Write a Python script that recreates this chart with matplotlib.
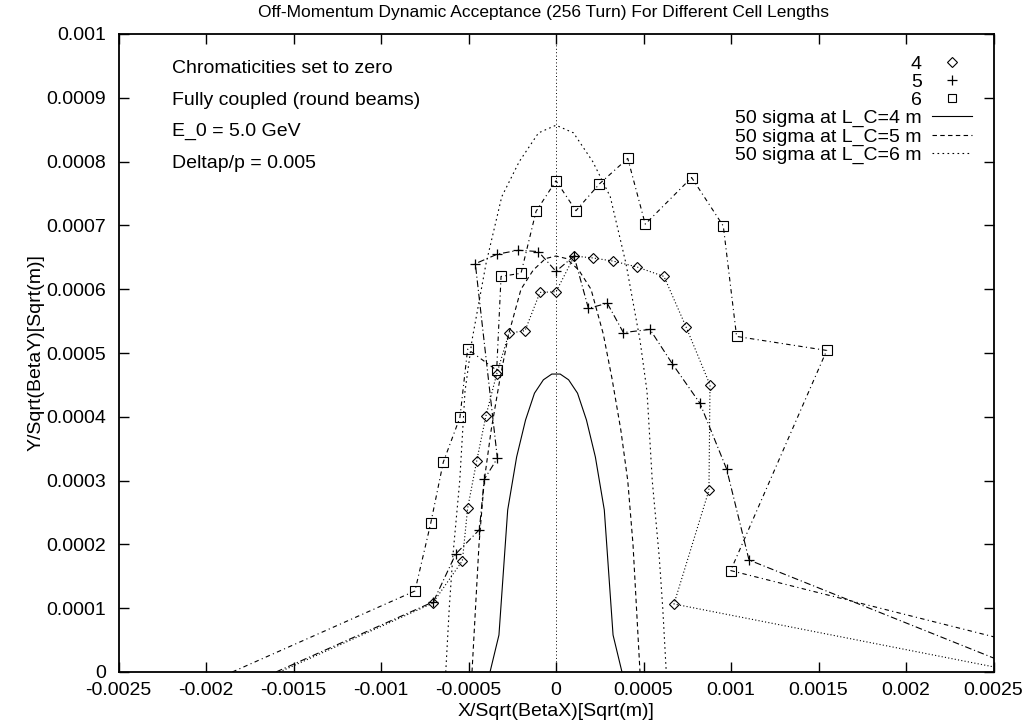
import numpy as np
import matplotlib
matplotlib.use('Agg')
import matplotlib.pyplot as plt
from matplotlib.lines import Line2D
from matplotlib.ticker import FuncFormatter, MultipleLocator

plt.rcParams['font.family'] = ['Liberation Sans', 'DejaVu Sans']

# tracked particles, cell length 4 m (diamonds)
x_4 = [-0.00158, -0.000705, -0.000535, -0.000505, -0.000453, -0.0004, -0.000339, -0.000269,
       -0.000177, -0.0000914, 0.0, 0.000105, 0.00021, 0.000328, 0.000461, 0.000617,
       0.000743, 0.00088, 0.000874, 0.000674, 0.00265]
y_4 = [0.0, 0.0001077, 0.0001744, 0.0002566, 0.000331, 0.000402, 0.000467, 0.000531,
       0.000535, 0.000595, 0.000596, 0.000652, 0.000649, 0.000644, 0.000635, 0.00062,
       0.000541, 0.00045, 0.000285, 0.0001066, 0.0]

# cell length 5 m (plus)
x_5 = [-0.0016, -0.000701, -0.000573, -0.000438, -0.00041, -0.000335, -0.000461, -0.000335,
       -0.000215, -0.000101, 0.0, 0.000103, 0.000185, 0.000293, 0.000385, 0.000537,
       0.000665, 0.000823, 0.000975, 0.001103, 0.0027]
y_5 = [0.0, 0.00011, 0.000185, 0.000223, 0.000302, 0.000335, 0.00064, 0.000655,
       0.000661, 0.000659, 0.000628, 0.000652, 0.00057, 0.000578, 0.000532, 0.000537,
       0.000483, 0.000421, 0.000318, 0.0001755, 0.0]

# cell length 6 m (squares)
x_6 = [-0.00185, -0.000806, -0.000716, -0.000644, -0.000549, -0.000505, -0.000339, -0.000314,
       -0.0002, -0.000114, 0.0, 0.000114, 0.000248, 0.00041, 0.00051, 0.000775,
       0.000956, 0.001032, 0.001547, 0.000998, 0.0033]
y_6 = [0.0, 0.000127, 0.000233, 0.000329, 0.000399, 0.000506, 0.000473, 0.00062,
       0.000625, 0.000722, 0.00077, 0.000723, 0.000765, 0.000805, 0.000702, 0.000775,
       0.000699, 0.000526, 0.000504, 0.000159, 0.0]

# 50 sigma boundaries (left half, mirrored below)
sig4_x = [-0.000377, -0.000326, -0.000276, -0.000225, -0.000174, -0.000123, -0.000072, -0.000024]
sig4_y = [0.0, 0.000058, 0.000254, 0.000337, 0.000395, 0.000437, 0.000458, 0.000467]

sig5_x = [-0.00048, -0.00046, -0.00044, -0.00041, -0.00037, -0.00032, -0.00027, -0.0002, -0.00013, -0.00006, 0.0]
sig5_y = [0.0, 0.0001, 0.0002, 0.0003, 0.00038, 0.00046, 0.00053, 0.0006, 0.00063, 0.000648, 0.000652]

sig6_x = [-0.00063, -0.00061, -0.00059, -0.00055, -0.00052, -0.00048, -0.0004, -0.00031, -0.00021, -0.0001, 0.0]
sig6_y = [0.0, 0.0001, 0.00018, 0.0003, 0.00044, 0.00052, 0.00064, 0.000745, 0.0008, 0.000845, 0.000857]

notes = ['Chromaticities set to zero', 'Fully coupled (round beams)',
         'E_0 = 5.0 GeV', 'Deltap/p = 0.005']


def mirror(xs, ys):
    xs = np.array(xs)
    ys = np.array(ys)
    if xs[-1] == 0:
        return np.concatenate([xs, -xs[-2::-1]]), np.concatenate([ys, ys[-2::-1]])
    return np.concatenate([xs, -xs[::-1]]), np.concatenate([ys, ys[::-1]])


fig = plt.figure(figsize=(10.25, 7.25), dpi=100)
ax = fig.add_axes([118.5 / 1025, 53 / 725, 875 / 1025, 638 / 725])

fs = 14
lw = 0.8
ls4 = (0, (1, 2))
ls5 = (0, (6, 2.5, 1, 2.5))
ls6 = (0, (4, 3, 1, 3))

ax.axvline(0, color='black', lw=0.7, ls=(0, (1, 2.5)))

ax.plot(x_4, y_4, color='black', lw=lw, ls=ls4, marker='D', ms=5, mfc='none', mew=0.8,
        markevery=slice(1, -1))
ax.plot(x_5, y_5, color='black', lw=lw, ls=ls5, marker='+', ms=7, mew=0.9,
        markevery=slice(1, -1))
ax.plot(x_6, y_6, color='black', lw=lw, ls=ls6, marker='s', ms=7, mfc='none', mew=0.8,
        markevery=slice(1, -1))

sx, sy = mirror(sig4_x, sig4_y)
ax.plot(sx, sy, color='black', lw=lw, ls='-')
sx, sy = mirror(sig5_x, sig5_y)
ax.plot(sx, sy, color='black', lw=lw, ls=(0, (4, 3)))
sx, sy = mirror(sig6_x, sig6_y)
ax.plot(sx, sy, color='black', lw=lw, ls=(0, (1.5, 3)))

ax.set_xlim(-0.0025, 0.0025)
ax.set_ylim(0, 0.001)
ax.xaxis.set_major_locator(MultipleLocator(0.0005))
ax.yaxis.set_major_locator(MultipleLocator(0.0001))
fmt = FuncFormatter(lambda v, p: '0' if abs(v) < 1e-12 else '%g' % v)
ax.xaxis.set_major_formatter(fmt)
ax.yaxis.set_major_formatter(fmt)
ax.tick_params(direction='in', length=7, width=1, top=True, right=True, labelsize=fs)
ax.tick_params(axis='y', pad=9)
ax.tick_params(axis='x', pad=7)
for s in ax.spines.values():
    s.set_linewidth(1.3)

ax.set_xlabel('X/Sqrt(BetaX)[Sqrt(m)]', fontsize=fs, labelpad=3)
ax.set_ylabel('Y/Sqrt(BetaY)[Sqrt(m)]', fontsize=fs, labelpad=1)
fig.text(544 / 1025, 1 - 12 / 725, 'Off-Momentum Dynamic Acceptance (256 Turn) For Different Cell Lengths',
         ha='center', va='center', fontsize=12.5)

for i, t in enumerate(notes):
    ax.text(0.0616, 0.946 - i * 0.0497, t, transform=ax.transAxes, fontsize=fs, va='center')

handles = [Line2D([], [], ls='none', marker='D', ms=5, mfc='none', mec='black', mew=0.8),
           Line2D([], [], ls='none', marker='+', ms=7, mec='black', mew=0.9),
           Line2D([], [], ls='none', marker='s', ms=6, mfc='none', mec='black', mew=0.8),
           Line2D([], [], color='black', lw=lw, ls='-'),
           Line2D([], [], color='black', lw=lw, ls=(0, (4, 3))),
           Line2D([], [], color='black', lw=lw, ls=(0, (1.5, 3)))]
labels = ['4', '5', '6', '50 sigma at L_C=4 m', '50 sigma at L_C=5 m', '50 sigma at L_C=6 m']
ax.legend(handles, labels, loc='upper right', bbox_to_anchor=(0.975, 0.966), frameon=False,
          markerfirst=False, fontsize=fs, handlelength=2.06, handletextpad=0.5,
          labelspacing=0.02, borderpad=0, borderaxespad=0)

fig.savefig('out.png', dpi=100)
